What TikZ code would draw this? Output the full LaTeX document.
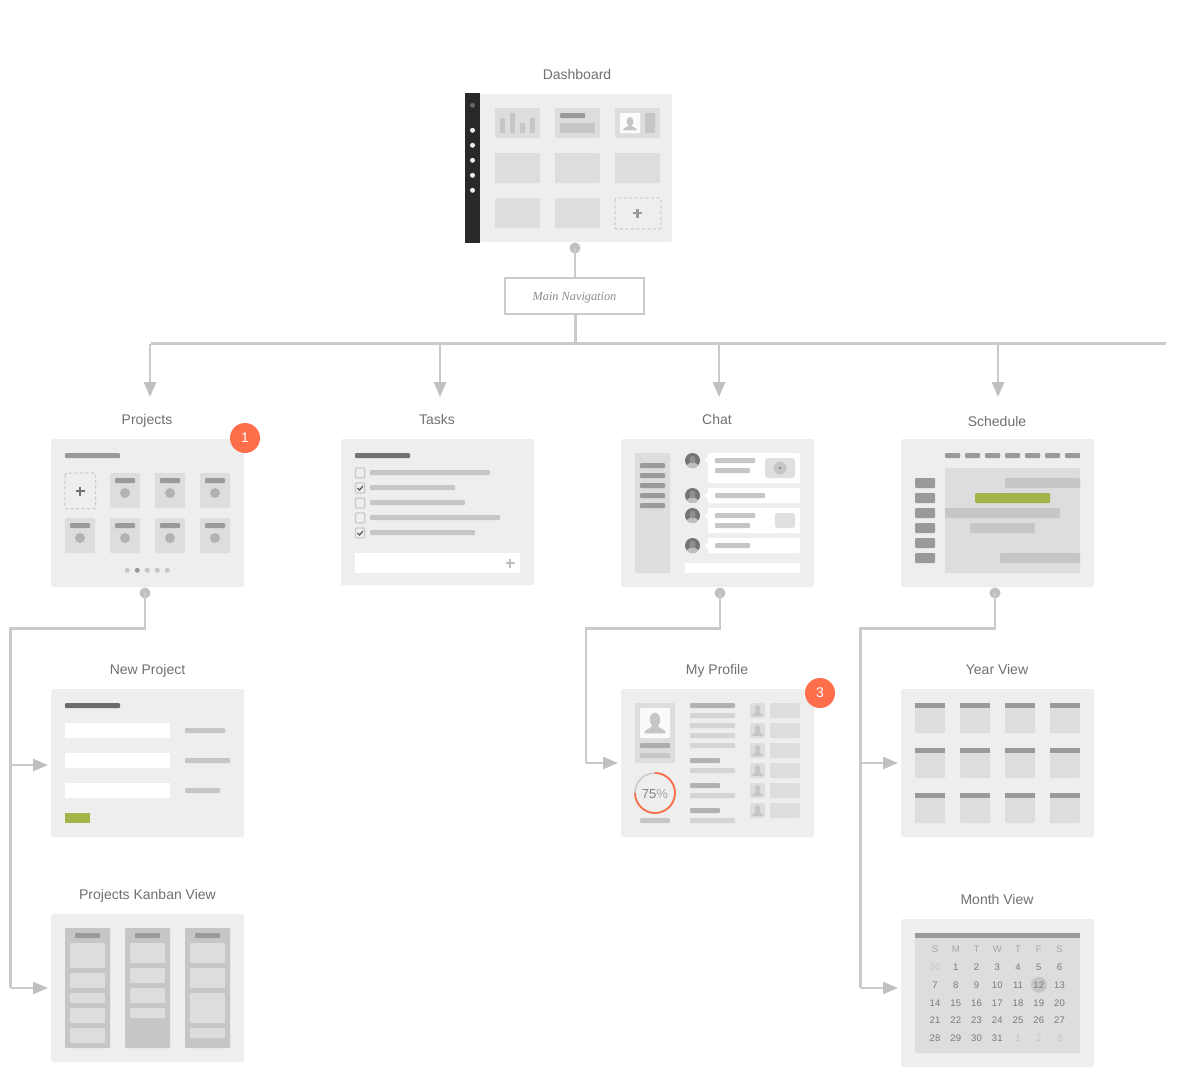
\documentclass[tikz,border=0pt]{standalone}
\usepackage{fontspec}
\setmainfont{Liberation Sans}
\newfontfamily\serifit{Liberation Serif}
\usetikzlibrary{arrows.meta}
\definecolor{panelc}{HTML}{EEEEEE}
\definecolor{cardc}{HTML}{DDDDDF}
\definecolor{midc}{HTML}{C6C6C8}
\definecolor{darkc}{HTML}{9A999C}
\definecolor{titlec}{HTML}{707070}
\definecolor{linec}{HTML}{CACACA}
\definecolor{headc}{HTML}{C0C0C0}
\definecolor{greenc}{HTML}{A2B548}
\definecolor{badgec}{HTML}{FF6E4A}
\definecolor{lightc}{HTML}{D5D5D8}
\definecolor{calt}{HTML}{7A7A7A}
\definecolor{calh}{HTML}{A6A6A8}
\definecolor{calf}{HTML}{C6C6C8}
\definecolor{avbg}{HTML}{747476}
\definecolor{avbody}{HTML}{C0C0C2}
\definecolor{avhead}{HTML}{909092}
\newcommand\rb[5]{\fill[#1,rounded corners=1pt] (#2,#3) rectangle (#4,#5);}
\newcommand\rs[5]{\fill[#1] (#2,#3) rectangle (#4,#5);}
\newcommand\plusmark[3]{\fill[#3] (#1-4.5,#2-1.4) rectangle (#1+4.5,#2+1.4); \fill[#3] (#1-1.4,#2-4.5) rectangle (#1+1.4,#2+4.5);}
\newcommand\personicon[4]{\begin{scope}[shift={(#1,#2)},scale=#3]
  \fill[#4] (0,-.4) ellipse [x radius=.4,y radius=.55];
  \fill[#4] (-.83,.64) .. controls (-.83,.3) and (-.28,.3) .. (-.22,.05) -- (.22,.05) .. controls (.28,.3) and (.83,.3) .. (.83,.64) -- cycle;
\end{scope}}
\newcommand\avatar[2]{\begin{scope}
  \clip (#1,#2) circle [radius=7.5];
  \fill[avbg] (#1,#2) circle [radius=7.5];
  \fill[avbody] (#1-7,#2+7.5) .. controls (#1-7,#2+3) and (#1-2,#2+3.5) .. (#1-2,#2+1.5) -- (#1+2,#2+1.5) .. controls (#1+2,#2+3.5) and (#1+7,#2+3) .. (#1+7,#2+7.5) -- cycle;
  \fill[avhead] (#1,#2-1) ellipse [x radius=3,y radius=4];
\end{scope}}
\tikzset{
  panel/.style={fill=panelc,draw=none,rounded corners=2.5pt,inner sep=0pt,outer sep=0pt,minimum width=193pt,minimum height=148pt},
  title/.style={anchor=base,text=titlec,inner sep=0pt,font=\fontsize{14}{16}\selectfont},
  dotnode/.style={circle,fill=headc,draw=none,inner sep=0pt,minimum size=11pt,outer sep=0pt},
  badge/.style={circle,fill=badgec,draw=none,inner sep=0pt,minimum size=30pt,text=white,font=\fontsize{14}{16}\selectfont},
  conn/.style={draw=linec,line width=2.4pt},
  arrowed/.style={conn,-{Triangle[length=15pt,width=12pt,color=headc,fill=headc]}},
  calnum/.style={anchor=base,inner sep=0pt,font=\fontsize{9.5}{11}\selectfont},
  dashcard/.style={draw=darkc!70,line width=.7pt,dash pattern=on 3pt off 2.5pt,rounded corners=2pt},
  check/.style={draw=black!65,line width=1.2pt}
}
\begin{document}
\begin{tikzpicture}[x=1pt,y=-1pt]
\useasboundingbox (0,0) rectangle (1204,1080);
\fill[white] (0,0) rectangle (1204,1080);

% ---------- panels
\node[panel,minimum width=192pt] (dash) at (576,168) {};
\node[panel] (projects) at (147.5,513) {};
\node[panel,minimum height=146pt] (tasks) at (437.5,512) {};
\fill[panelc] (341,578) rectangle (534,585);
\node[panel] (chat) at (717.5,513) {};
\node[panel] (schedule) at (997.5,513) {};
\node[panel] (newproj) at (147.5,763) {};
\node[panel] (kanban) at (147.5,988) {};
\node[panel] (profile) at (717.5,763) {};
\node[panel] (year) at (997.5,763) {};
\node[panel] (month) at (997.5,993) {};

% ---------- titles
\node[title] (tDash) at (577,79) {Dashboard};
\node[title] (tProjects) at (147,424) {Projects};
\node[title] (tTasks) at (437,424) {Tasks};
\node[title] (tChat) at (717,424) {Chat};
\node[title] (tSchedule) at (997,426) {Schedule};
\node[title] (tNew) at (147.5,674) {New Project};
\node[title] (tKanban) at (147.5,899) {Projects Kanban View};
\node[title] (tProfile) at (717,674) {My Profile};
\node[title] (tYear) at (997,674) {Year View};
\node[title] (tMonth) at (997,904) {Month View};

% ---------- dashboard
\fill[black!84] (465,93) rectangle (480,243);
\fill[black!60] (472.5,105.3) circle [radius=2.5];
\foreach \y in {130.3,145.3,160.3,175.3,190.3} {\fill[panelc] (472.5,\y) circle [radius=2.5];}
\foreach \x in {495,555,615} {\foreach \y in {108,153} {\rb{cardc}{\x}{\y}{\x+45}{\y+30}}}
\foreach \x in {495,555} {\rb{cardc}{\x}{198}{\x+45}{228}}
\rs{midc}{500}{118}{505}{133}\rs{midc}{510}{113}{515}{133}\rs{midc}{520}{123}{525}{133}\rs{midc}{530}{118}{535}{133}
\rb{darkc}{560}{113}{585}{118}\rs{midc}{560}{123}{595}{133}
\rb{white!75!panelc}{620}{113}{640}{133}\personicon{630}{125}{8.5}{midc}\rb{midc}{645}{113}{655}{133}
\draw[dashcard] (615,198) rectangle (661,229);
\plusmark{637.5}{213}{darkc}

% ---------- main navigation and bus
\node[dotnode] (dashdot) at (575,248) {};
\node[draw=linec,line width=1.5pt,fill=white,minimum width=139pt,minimum height=36pt,inner sep=0pt,outer sep=0pt,text height=8pt,text depth=0pt,text=black!45,font=\serifit\itshape\fontsize{12.3}{14}\selectfont] (mainnav) at (574.5,296) {Main Navigation};
\coordinate (busL) at (150.5,343.5);
\coordinate (busR) at (1166,343.5);
\coordinate (busM) at (575.5,343.5);
\coordinate (tipA) at (150,397);
\coordinate (tipB) at (440,397);
\coordinate (tipC) at (719,397);
\coordinate (tipD) at (998,397);
\draw[conn] (dashdot.center) -- (dashdot.center |- mainnav.north);
\draw[conn] (busM |- mainnav.south) -- (busM);
\draw[conn] (busL) -- (busR);
\foreach \t in {tipA,tipB,tipC,tipD} {\draw[arrowed] (\t |- busL) -- (\t);}

% ---------- projects
\rb{darkc}{65}{453}{120}{458}
\draw[dashcard] (65,473) rectangle (95.7,508.7);
\plusmark{80}{491}{black!55}
\foreach \x/\y in {110/473,155/473,200/473,65/518,110/518,155/518,200/518}{
  \rb{cardc}{\x}{\y}{\x+30}{\y+35}
  \rb{darkc}{\x+5}{\y+5}{\x+25}{\y+10}
  \fill[black!30] (\x+15,\y+20) circle [radius=5];
}
\foreach \x in {127.3,147.3,157.3,167.3} {\fill[midc] (\x,570.3) circle [radius=2.5];}
\fill[darkc] (137.3,570.3) circle [radius=2.5];
\node[badge] (badgeA) at (245,438) {1};

% ---------- tasks
\rb{black!55}{355}{453}{410}{458}
\foreach \y/\e in {468/490,483/455,498/465,513/500,528/475}{
  \draw[linec,line width=1.3pt,rounded corners=1pt] (355.5,\y) rectangle (364.8,\y+10);
  \rb{midc}{370}{\y+2}{\e}{\y+7}
}
\foreach \y in {483,528} {\draw[check] (357.5,\y+5) -- (359.5,\y+7) -- (363,\y+3);}
\rs{white}{355}{553}{520}{573}
\plusmark{510}{563}{black!25}

% ---------- chat
\rb{cardc}{635}{453}{670}{573}
\foreach \y in {463,473,483,493,503} {\rb{darkc}{640}{\y}{665}{\y+5}}
\foreach \a/\b/\c in {453/483/460.5,488/503/495.5,508/533/515.5,538/553/545.5}{
  \rb{white}{708}{\a}{800}{\b}
  \fill[white] (708.5,\c-3.5) -- (704.5,\c) -- (708.5,\c+3.5) -- cycle;
  \avatar{692.5}{\c}
}
\rb{midc}{715}{458}{755}{463}\rb{midc}{715}{468}{750}{473}
\fill[cardc!80!panelc,rounded corners=2.5pt] (765,458) rectangle (795,478);
\fill[midc] (780,468) circle [radius=6.5];
\fill[black!60] (780,468) circle [radius=1];
\rb{midc}{715}{493}{765}{498}
\rb{midc}{715}{513}{755}{518}\rb{midc}{715}{523}{750}{528}
\fill[cardc!80!panelc,rounded corners=2.5pt] (775,513) rectangle (795,528);
\rb{midc}{715}{543}{750}{548}
\rs{white}{685}{563}{800}{573}

% ---------- schedule
\foreach \x in {945,965,985,1005,1025,1045,1065} {\rb{darkc}{\x}{453}{\x+15}{458}}
\foreach \y in {478,493,508,523,538,553} {\rb{darkc}{915}{\y}{935}{\y+10}}
\rb{cardc}{945}{468}{1080}{573}
\rb{midc}{1005}{478}{1080}{488}
\rb{greenc}{975}{493}{1050}{503}
\rb{midc}{945}{508}{1060}{518}
\rb{midc}{970}{523}{1035}{533}
\rb{midc}{1000}{553}{1080}{563}

% ---------- new project
\rb{black!58}{65}{703}{120}{708}
\foreach \y in {723,753,783} {\rs{white}{65}{\y}{170}{\y+15}}
\rb{midc}{185}{728}{225}{733}\rb{midc}{185}{758}{230}{763}\rb{midc}{185}{788}{220}{793}
\rs{greenc}{65}{813}{90}{823}

% ---------- kanban
\foreach \x in {65,125,185}{
  \rb{midc}{\x}{928}{\x+45}{1048}
  \rb{darkc}{\x+10}{933}{\x+35}{938}
}
\foreach \a/\b in {943/968,973/988,993/1003,1008/1023,1028/1043} {\rb{cardc}{70}{\a}{105}{\b}}
\foreach \a/\b in {943/963,968/983,988/1003,1008/1018} {\rb{cardc}{130}{\a}{165}{\b}}
\foreach \a/\b in {943/963,968/988,993/1023,1028/1038} {\rb{cardc}{190}{\a}{225}{\b}}

% ---------- profile
\rb{cardc}{635}{703}{675}{763}
\rb{white!70!panelc}{640}{708}{670}{738}
\personicon{655}{725}{13}{midc}
\rb{black!32}{640}{743}{670}{748}
\rb{midc}{640}{753}{670}{758}
\draw[linec,line width=1.6pt] (655,793) circle [radius=20];
\draw[badgec,line width=1.8pt] (635,793) arc [start angle=180,end angle=-90,radius=20];
\node[anchor=base,inner sep=0pt,text=black!50,font=\fontsize{13}{15}\selectfont] (pct) at (655,798) {75\textcolor{black!35}{\%}};
\rb{midc}{640}{818}{670}{823}
\foreach \y/\e/\c in {703/735/black!30,713/735/lightc,723/735/lightc,733/735/lightc,743/735/lightc,758/720/black!30,768/735/lightc,783/720/black!30,793/735/lightc,808/720/black!30,818/735/lightc}
  {\rb{\c}{690}{\y}{\e}{\y+5}}
\foreach \y in {703,723,743,763,783,803}{
  \rb{cardc}{770}{\y}{800}{\y+15}
  \fill[cardc,rounded corners=2pt] (750,\y) rectangle (765,\y+15);
  \personicon{757.5}{\y+8.5}{7}{midc}
}
\node[badge] (badgeC) at (820,693) {3};

% ---------- year view
\foreach \x in {915,960,1005,1050} {\foreach \y in {703,748,793}{
  \rb{cardc}{\x}{\y}{\x+30}{\y+30}
  \rs{darkc}{\x}{\y}{\x+30}{\y+5}
}}

% ---------- month view
\rb{cardc}{915}{933}{1080}{1053}
\rs{darkc}{915}{933}{1080}{938}
\fill[midc] (1039,984.7) circle [radius=8];
\foreach \t/\c [count=\i from 0] in {S/calh,M/calh,T/calh,W/calh,T/calh,F/calh,S/calh,
  30/calf,1/calt,2/calt,3/calt,4/calt,5/calt,6/calt,
  7/calt,8/calt,9/calt,10/calt,11/calt,12/calt,13/calt,
  14/calt,15/calt,16/calt,17/calt,18/calt,19/calt,20/calt,
  21/calt,22/calt,23/calt,24/calt,25/calt,26/calt,27/calt,
  28/calt,29/calt,30/calt,31/calt,1/calf,2/calf,3/calf}{
  \pgfmathsetmacro\cx{935+20.75*mod(\i,7)}
  \pgfmathsetmacro\cy{952.7+17.8*floor(\i/7)}
  \node[calnum,text=\c] (cal\i) at (\cx,\cy) {\t};
}

% ---------- sub-page connectors
\node[dotnode] (projdot) at (145,593) {};
\node[dotnode] (chatdot) at (720,593) {};
\node[dotnode] (scheddot) at (995,593) {};
\coordinate (pL) at (10.5,628.5);
\coordinate (pA) at (48,765);
\coordinate (pB) at (48,988);
\coordinate (cL) at (586,628.5);
\coordinate (cA) at (618,763);
\coordinate (sL) at (860.5,628.5);
\coordinate (sA) at (898,763);
\coordinate (sB) at (898,988);
\draw[conn] (projdot.center) |- (pL) -- (pL |- pB);
\draw[arrowed] (pL |- pA) -- (pA);
\draw[arrowed] (pL |- pB) -- (pB);
\draw[conn] (chatdot.center) |- (cL) -- (cL |- cA);
\draw[arrowed] (cL |- cA) -- (cA);
\draw[conn] (scheddot.center) |- (sL) -- (sL |- sB);
\draw[arrowed] (sL |- sA) -- (sA);
\draw[arrowed] (sL |- sB) -- (sB);
\end{tikzpicture}
\end{document}
